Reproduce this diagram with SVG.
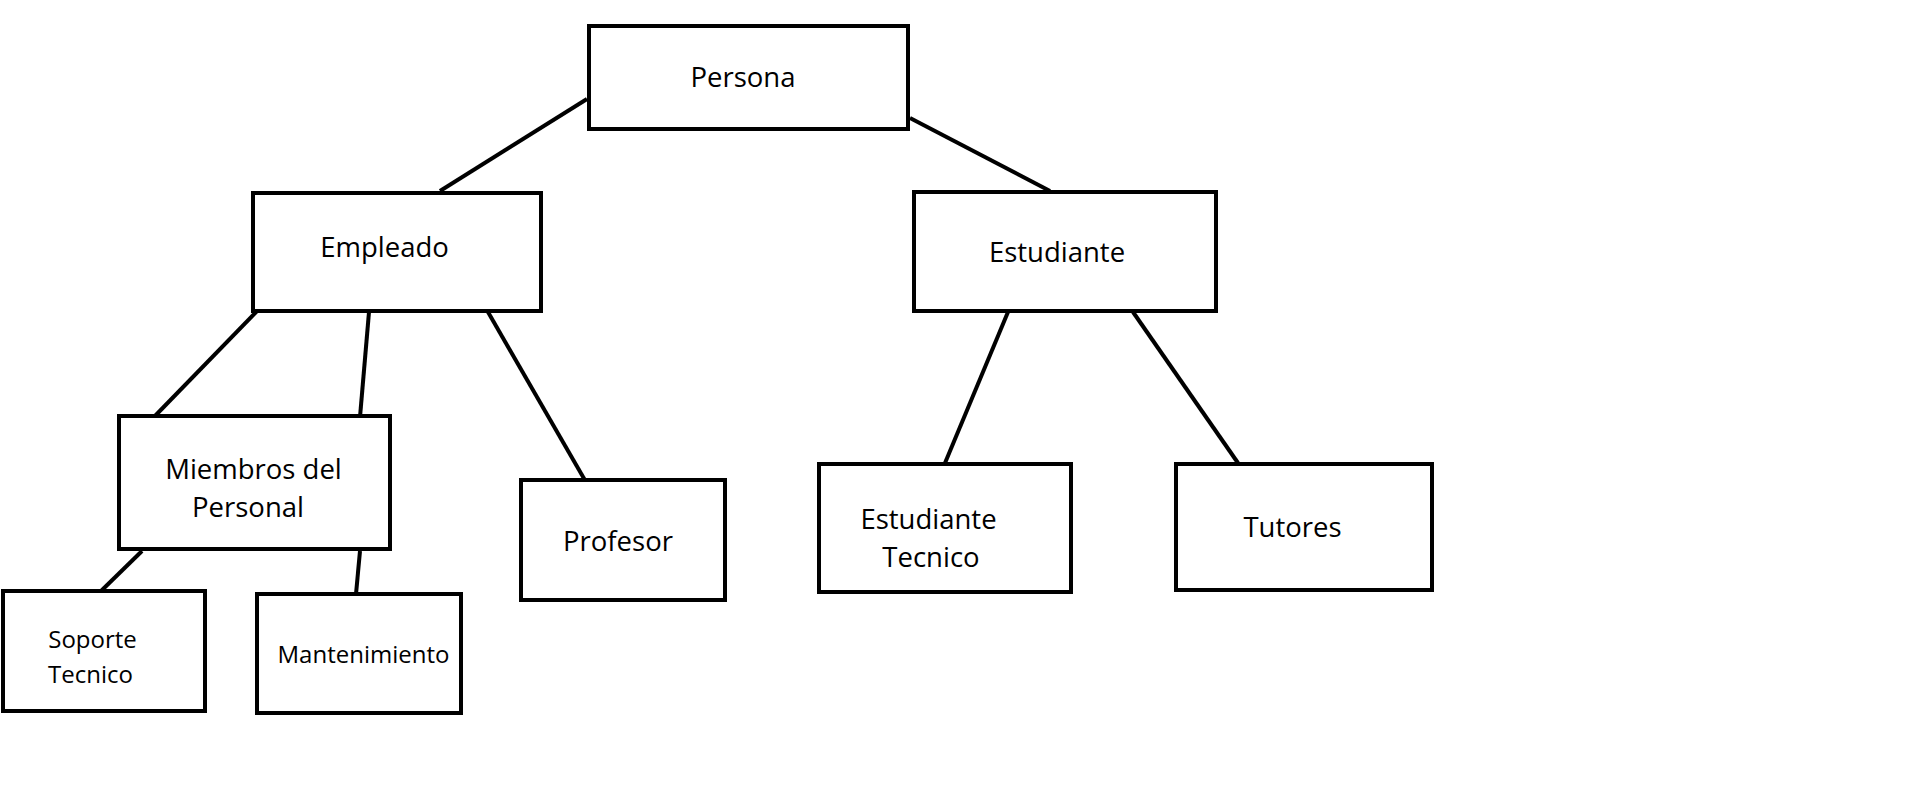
<svg xmlns="http://www.w3.org/2000/svg" width="1931" height="786" viewBox="0 0 1931 786">
<style>
.box{fill:#fff;stroke:#000;stroke-width:4}
.t{font-family:"Open Sans","Noto Sans","Liberation Sans",sans-serif;font-size:27.5px;fill:#000;text-anchor:middle}
.s{font-size:24px}
.c line{stroke:#000;stroke-width:4}
</style>
<rect width="1931" height="786" fill="#fff"/>
<g class="c" id="connectors">
<line x1="587" y1="99" x2="440" y2="191"/>
<line x1="910" y1="118" x2="1050" y2="191"/>
<line x1="262" y1="306" x2="153" y2="418"/>
<line x1="369" y1="312" x2="360" y2="417"/>
<line x1="488" y1="312" x2="586" y2="482"/>
<line x1="142" y1="551" x2="99" y2="593"/>
<line x1="360" y1="551" x2="356" y2="594"/>
<line x1="1008" y1="312" x2="945" y2="463"/>
<line x1="1133" y1="312" x2="1238" y2="463"/>
</g>
<g id="persona"><rect class="box" x="589" y="26" width="319" height="103"/><text class="t" x="743" y="87">Persona</text></g>
<g id="empleado"><rect class="box" x="253" y="193" width="288" height="118"/><text class="t" x="384.5" y="257">Empleado</text></g>
<g id="estudiante"><rect class="box" x="914" y="192" width="302" height="119"/><text class="t" x="1057" y="262">Estudiante</text></g>
<g id="miembros"><rect class="box" x="119" y="416" width="271" height="133"/><text class="t" x="253.5" y="479">Miembros del</text><text class="t" x="248" y="517">Personal</text></g>
<g id="profesor"><rect class="box" x="521" y="480" width="204" height="120"/><text class="t" x="618" y="551">Profesor</text></g>
<g id="soporte"><rect class="box" x="3" y="591" width="202" height="120"/><text class="t s" x="92.5" y="648">Soporte</text><text class="t s" x="90.5" y="683">Tecnico</text></g>
<g id="mantenimiento"><rect class="box" x="257" y="594" width="204" height="119"/><text class="t s" x="363.5" y="663">Mantenimiento</text></g>
<g id="estudiante-tecnico"><rect class="box" x="819" y="464" width="252" height="128"/><text class="t" x="928.5" y="529">Estudiante</text><text class="t" x="931" y="567">Tecnico</text></g>
<g id="tutores"><rect class="box" x="1176" y="464" width="256" height="126"/><text class="t" x="1292.5" y="537">Tutores</text></g>
</svg>
